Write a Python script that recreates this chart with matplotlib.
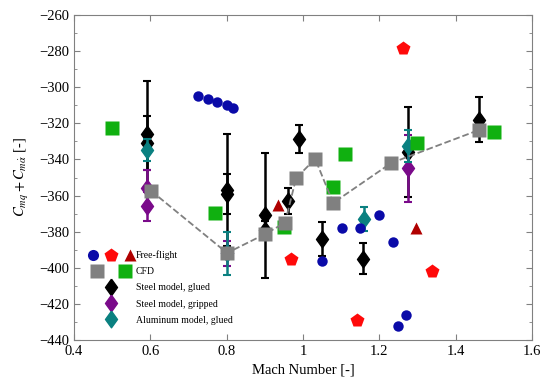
import matplotlib
matplotlib.use("Agg")
import matplotlib.pyplot as plt
from matplotlib.legend_handler import HandlerTuple
from matplotlib.lines import Line2D
from matplotlib.ticker import MultipleLocator

plt.rcParams['font.family'] = ['Liberation Serif', 'DejaVu Serif']
plt.rcParams['mathtext.fontset'] = 'stix'

# Free-flight data
ff_circle_mach = [0.725, 0.751, 0.775, 0.801, 0.817, 1.05, 1.102, 1.149, 1.199, 1.236, 1.249, 1.27]
ff_circle_cm = [-304.8, -306.5, -308.2, -309.8, -311.5, -396.2, -378, -378, -370.7, -385.7, -432, -426]
ff_pent_mach = [1.262, 1.338, 1.141, 0.969]
ff_pent_cm = [-278, -401.8, -428.9, -395]
ff_tri_mach = [0.935, 1.296]
ff_tri_cm = [-365.2, -378]

# CFD data
cfd_gray_mach = [0.602, 0.801, 0.901, 0.953, 0.982, 1.032, 1.079, 1.231, 1.461]
cfd_gray_cm = [-357.4, -391.8, -381.3, -375, -350.3, -339.7, -364.1, -342, -323.7]
cfd_green_mach = [0.5, 0.77, 0.95, 1.079, 1.11, 1.299, 1.5]
cfd_green_cm = [-322.6, -369.6, -377.5, -355, -337, -331, -325]

# Wind tunnel: steel model, glued
sg_mach = [0.59, 0.59, 0.8, 0.8, 0.9, 0.9, 0.961, 0.99, 1.05, 1.157, 1.274, 1.461]
sg_cm = [-326, -331, -357, -359, -371, -379, -363, -328.7, -384, -395, -335.8, -318]
sg_err = [29.5, 15, 31, 11, 34.5, 5, 7.3, 8, 9.4, 8.7, 25, 12.5]

# Steel model, gripped
sp_mach = [0.59, 0.59, 0.8, 1.274]
sp_cm = [-356, -366, -392, -345]
sp_err = [10, 8, 7, 18.5]

# Aluminum model, glued
al_mach = [0.59, 0.8, 1.16, 1.274]
al_cm = [-334.8, -392, -373, -332.5]
al_err = [6, 12, 6.5, 9]

labels = ['Free-flight', 'CFD', 'Steel model, glued', 'Steel model, gripped', 'Aluminum model, glued']

c_blue = '#0a0aa8'
c_red = '#ff0a0a'
c_dred = '#b00000'
c_gray = '#808080'
c_green = '#10b010'
c_purple = '#7a0a8a'
c_teal = '#0a8080'

diamond = [(0, 1), (0.72, 0), (0, -1), (-0.72, 0), (0, 1)]

fig = plt.figure(figsize=(5.5, 3.88), dpi=100)
ax = fig.add_axes([74/550, 1-340/388, (532-74)/550, (340-15)/388])

eb_kw = dict(linestyle='none', marker=diamond, markersize=12, capsize=3, elinewidth=1.8, capthick=1.5)
ax.errorbar(sg_mach, sg_cm, yerr=sg_err, color='black', zorder=3, **eb_kw)
ax.errorbar(sp_mach, sp_cm, yerr=sp_err, color=c_purple, zorder=4, **eb_kw)
ax.errorbar(al_mach, al_cm, yerr=al_err, color=c_teal, zorder=5, **eb_kw)

ax.plot(ff_circle_mach, ff_circle_cm, 'o', color=c_blue, ms=7.5, mec='none', zorder=6)
ax.plot(ff_pent_mach, ff_pent_cm, 'p', color=c_red, ms=10, mec='none', zorder=6)
ax.plot(ff_tri_mach, ff_tri_cm, '^', color=c_dred, ms=8.5, mec='none', zorder=6)

ax.plot(cfd_green_mach, cfd_green_cm, 's', color=c_green, ms=10, mec='none', zorder=7)
ax.plot(cfd_gray_mach, cfd_gray_cm, '--', color=c_gray, lw=1.3, zorder=8)
ax.plot(cfd_gray_mach, cfd_gray_cm, 's', color=c_gray, ms=10, mec='none', zorder=8)

ax.set_xlim(0.4, 1.6)
ax.set_ylim(-440, -260)
ax.xaxis.set_major_locator(MultipleLocator(0.2))
ax.yaxis.set_major_locator(MultipleLocator(20))
ax.yaxis.set_minor_locator(MultipleLocator(10))
ax.tick_params(which='both', direction='in', top=True, right=True, colors=c_gray,
               labelcolor='black', labelsize=10.5)
ax.tick_params(which='major', length=4)
ax.tick_params(which='minor', length=2.5)
ax.set_xticks([0.4, 0.6, 0.8, 1.0, 1.2, 1.4, 1.6])
ax.set_xticklabels(['0.4', '0.6', '0.8', '1', '1.2', '1.4', '1.6'])
for s in ax.spines.values():
    s.set_color(c_gray)
ax.set_xlabel('Mach Number [-]', fontsize=10.5)
ax.set_ylabel(r'$C_{mq} + C_{m\dot{\alpha}}$ [-]', fontsize=10.5, labelpad=6)

h_ff = (Line2D([], [], ls='none', marker='o', color=c_blue, ms=8, mec='none'),
        Line2D([], [], ls='none', marker='p', color=c_red, ms=10, mec='none'),
        Line2D([], [], ls='none', marker='^', color=c_dred, ms=9, mec='none'))
h_cfd = (Line2D([], [], ls='none', marker='s', color=c_gray, ms=10, mec='none'),
         Line2D([], [], ls='none', marker='s', color=c_green, ms=10, mec='none'))
h_sg = Line2D([], [], ls='none', marker=diamond, color='black', ms=12)
h_sp = Line2D([], [], ls='none', marker=diamond, color=c_purple, ms=12)
h_al = Line2D([], [], ls='none', marker=diamond, color=c_teal, ms=12)

leg = ax.legend([h_ff, h_cfd, h_sg, h_sp, h_al], labels,
                handler_map={tuple: HandlerTuple(ndivide=None, pad=0.9)},
                loc='lower left', bbox_to_anchor=(0.022, 0.035), frameon=False,
                fontsize=7, handlelength=4.8, handletextpad=0.15, labelspacing=0.74,
                borderaxespad=0)

fig.savefig('out.png', dpi=100)
